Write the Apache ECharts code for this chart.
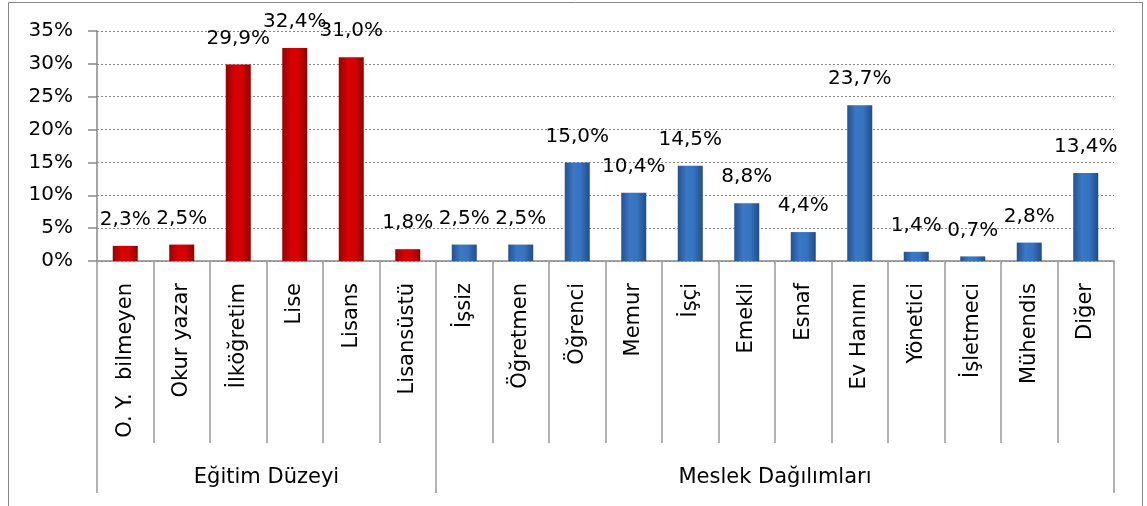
<!DOCTYPE html>
<html>
<head>
<meta charset="utf-8">
<script src="https://cdn.jsdelivr.net/npm/echarts@6/dist/echarts.min.js"></script>
<style>
html,body{margin:0;padding:0;background:#fff;}
#c{width:1147px;height:506px;}
</style>
</head>
<body>
<div id="c"></div>
<script>
const eduCategories = ['O. Y.  bilmeyen','Okur yazar','İlköğretim','Lise','Lisans','Lisansüstü'];
const eduValues = [2.3, 2.5, 29.9, 32.4, 31.0, 1.8];
const occCategories = ['İşsiz','Öğretmen','Öğrenci','Memur','İşçi','Emekli','Esnaf','Ev Hanımı','Yönetici','İşletmeci','Mühendis','Diğer'];
const occValues = [2.5, 2.5, 15.0, 10.4, 14.5, 8.8, 4.4, 23.7, 1.4, 0.7, 2.8, 13.4];
const groupNames = ['Eğitim Düzeyi','Meslek Dağılımları'];
const yTicks = [0,5,10,15,20,25,30,35];

const categories = eduCategories.concat(occCategories);
const groupSizes = [eduCategories.length, occCategories.length];
const total = categories.length;
const boundaries = [0];
const centers = [];
groupSizes.forEach(s => { const b = boundaries[boundaries.length-1]; centers.push(b + s/2); boundaries.push(b + s); });

const FONT = 'DejaVu Sans';
const redGrad = new echarts.graphic.LinearGradient(0,0,1,0,[
  {offset:0,color:'#9a0000'},{offset:0.35,color:'#d80000'},{offset:0.65,color:'#d40000'},{offset:1,color:'#8e0000'}]);
const blueGrad = new echarts.graphic.LinearGradient(0,0,1,0,[
  {offset:0,color:'#23528e'},{offset:0.35,color:'#3a78c6'},{offset:0.65,color:'#3572c0'},{offset:1,color:'#214d86'}]);

const data = eduValues.map(v => ({value:v, itemStyle:{color:redGrad}}))
  .concat(occValues.map(v => ({value:v, itemStyle:{color:blueGrad}})));

const chart = echarts.init(document.getElementById('c'), null, {renderer:'canvas'});
chart.setOption({
  animation:false,
  backgroundColor:'#fff',
  textStyle:{fontFamily:FONT},
  graphic:[{type:'rect', shape:{x:8.5,y:2.5,width:1134,height:520}, style:{fill:'none',stroke:'#888',lineWidth:1}, silent:true}],
  grid:{left:97,right:33,top:31,bottom:245},
  xAxis:[{
    type:'category', data:categories, gridIndex:0,
    axisLine:{show:true,lineStyle:{color:'#888',width:1.5}},
    axisTick:{show:true,interval:0,length:182,lineStyle:{color:'#999',width:1.5}},
    axisLabel:{interval:0,rotate:90,margin:22,fontSize:21,color:'#000',fontFamily:FONT}
  },{
    type:'value', gridIndex:0, min:0, max:total, position:'bottom',
    axisLine:{show:false}, splitLine:{show:false},
    axisTick:{show:true, customValues:boundaries, length:232, lineStyle:{color:'#999',width:1.5}},
    axisLabel:{customValues:centers, margin:206, fontSize:21, color:'#000', fontFamily:FONT,
      formatter:(v)=>{const i=centers.indexOf(v); return i>=0?groupNames[i]:'';}}
  }],
  yAxis:{
    type:'value', min:0, max:35, interval:5,
    axisLine:{show:true,lineStyle:{color:'#888',width:1.5}},
    axisTick:{show:true,length:9,lineStyle:{color:'#888',width:1.5}},
    axisLabel:{margin:24,fontSize:20,color:'#000',fontFamily:FONT,formatter:'{value}%',
      customValues:yTicks},
    splitLine:{show:true,lineStyle:{color:'#888',type:[2,2],width:1}}
  },
  series:[{
    type:'bar', xAxisIndex:0, yAxisIndex:0, data:data, barWidth:25,
    label:{show:true,position:'top',distance:16,fontSize:20,color:'#000',fontFamily:FONT,
      formatter:(p)=>p.value.toFixed(1).replace('.',',')+'%'}
  }]
});
</script>
</body>
</html>
